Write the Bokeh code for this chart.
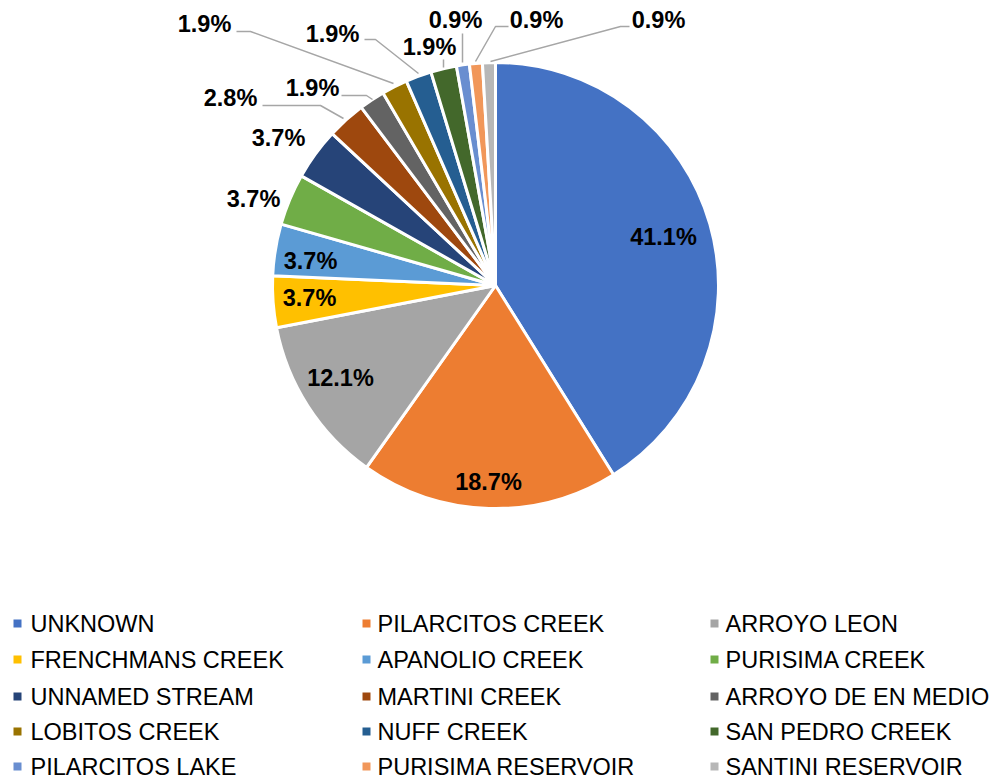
import math
from bokeh.plotting import figure
from bokeh.models import Range1d, ColumnDataSource
from bokeh.core.properties import value
from bokeh.embed import file_html
from bokeh.resources import INLINE

# ---------------- data ----------------
categories = ["UNKNOWN", "PILARCITOS CREEK", "ARROYO LEON", "FRENCHMANS CREEK",
              "APANOLIO CREEK", "PURISIMA CREEK", "UNNAMED STREAM", "MARTINI CREEK",
              "ARROYO DE EN MEDIO", "LOBITOS CREEK", "NUFF CREEK", "SAN PEDRO CREEK",
              "PILARCITOS LAKE", "PURISIMA RESERVOIR", "SANTINI RESERVOIR"]
counts = [44, 20, 13, 4, 4, 4, 4, 3, 2, 2, 2, 2, 1, 1, 1]
colors = ["#4472C4", "#ED7D31", "#A5A5A5", "#FFC000", "#5B9BD5", "#70AD47",
          "#264478", "#9E480E", "#636363", "#997300", "#255E91", "#43682B",
          "#698ED0", "#F1975A", "#B7B7B7"]

# ---------------- layout (pixel positions, y measured from top) ----------------
W, H = 994, 779
CX, CY, R = 495, 285, 223
label_px = [(663, 236), (488, 481), (340, 377), (309, 297), (310, 260), (253, 198),
            (278, 137), (230, 97), (312, 87), (204, 23), (332, 33), (429, 46),
            (455, 19), (536, 19), (658, 19)]
leaders_px = {
    7: [(262, 105), (320, 105), (343, 118)],
    8: [(341, 95), (366, 95), (372, 99)],
    9: [(236, 31), (250, 31), (393, 83)],
    10: [(364, 39), (375, 39), (418, 73)],
    11: [(443, 59), (443, 67)],
    12: [(462, 33), (462, 62)],
    13: [(508, 26), (495, 26), (475, 61)],
    14: [(629, 26), (620, 26), (490, 61)],
}
legend_cols_marker = [17, 366, 714]
legend_cols_text = [30, 377, 725]
legend_rows = [623, 659, 696, 731, 766]


def fy(py):
    return H - py


total = sum(counts)
fracs = [c / total for c in counts]
pct_labels = ["%.1f%%" % (f * 100) for f in fracs]

starts, ends = [], []
cum = 0.0
for f in fracs:
    a0 = math.pi / 2 - 2 * math.pi * cum
    a1 = math.pi / 2 - 2 * math.pi * (cum + f)
    starts.append(a1)
    ends.append(a0)
    cum += f

p = figure(width=W, height=H, x_range=Range1d(0, W), y_range=Range1d(0, H),
           output_backend="svg", toolbar_location=None, min_border=0,
           x_axis_location=None, y_axis_location=None)
p.grid.visible = False
p.outline_line_color = None
p.background_fill_color = "white"
p.border_fill_color = "white"

src = ColumnDataSource(dict(start=starts, end=ends, color=colors, cat=categories))
p.wedge(x=CX, y=fy(CY), radius=R, start_angle="start", end_angle="end",
        direction="anticlock", fill_color="color", line_color="white",
        line_width=3, source=src)

# leader lines
xs, ys = [], []
for i, pts in leaders_px.items():
    xs.append([q[0] for q in pts])
    ys.append([fy(q[1]) for q in pts])
p.multi_line(xs=xs, ys=ys, line_color="#A6A6A6", line_width=1.5)

# percentage labels
lsrc = ColumnDataSource(dict(x=[q[0] for q in label_px], y=[fy(q[1]) for q in label_px],
                             t=pct_labels))
p.text(x="x", y="y", text="t", source=lsrc, text_align="center",
       text_baseline="middle", text_font=value("Liberation Sans"),
       text_font_style="bold", text_font_size="23.5px", text_color="#000000")

# legend
mx, my, tx, ty = [], [], [], []
for i, cat in enumerate(categories):
    r, c = divmod(i, 3)
    mx.append(legend_cols_marker[c]); my.append(fy(legend_rows[r]))
    tx.append(legend_cols_text[c]); ty.append(fy(legend_rows[r]))
p.rect(x=mx, y=my, width=8, height=8, fill_color=colors, line_color=None)
gsrc = ColumnDataSource(dict(x=tx, y=ty, t=categories))
p.text(x="x", y="y", text="t", source=gsrc, text_align="left",
       text_baseline="middle", text_font=value("Liberation Sans"),
       text_font_size="23.5px", text_color="#000000")

open("out.html", "w").write(file_html(p, INLINE))
